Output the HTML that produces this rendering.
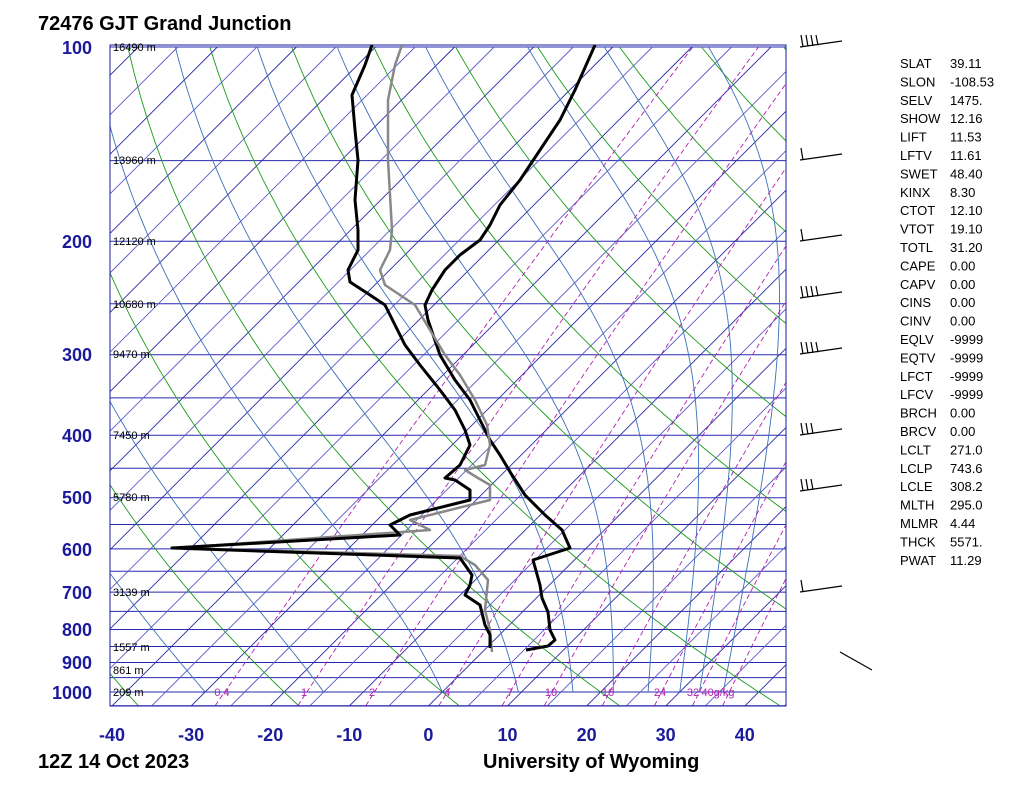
<!DOCTYPE html>
<html><head><meta charset="utf-8"><style>
body{margin:0;background:#fff;width:1024px;height:794px;overflow:hidden;font-family:"Liberation Sans",sans-serif}
svg{position:absolute;left:0;top:0}
</style></head><body>
<svg id="s" width="1024" height="794" xmlns="http://www.w3.org/2000/svg">
<defs><clipPath id="c"><rect x="110" y="45" width="676" height="661"/></clipPath></defs>
<rect x="0" y="0" width="1024" height="794" fill="#fff"/>
<g id="bg" clip-path="url(#c)"></g>
<rect x="110" y="45" width="676" height="661" fill="none" stroke="#1a1aa0" stroke-width="1"/>
<g id="snd" clip-path="url(#c)" fill="none" stroke-linejoin="round">
<polyline stroke="#000" stroke-width="3" points="526,650 548,646 555,640 550,630 548,612 542,598 540,585 533,560 570,548 562,530 545,515 525,495 512,475 500,455 490,440 480,420 470,400 455,380 440,355 428,320 425,305 432,290 445,270 460,255 480,240 490,225 500,205 520,180 540,150 560,120 575,90 595,45"/>
<polyline stroke="#888" stroke-width="2.5" points="492,652 490,630 485,610 488,580 475,565 460,556 175,548 430,530 410,520 490,500 490,485 478,478 465,470 485,465 490,445 487,425 475,400 460,375 445,355 430,330 415,305 400,295 385,285 380,270 390,250 392,230 388,160 388,100 395,65 402,45"/>
<polyline stroke="#000" stroke-width="3" points="490,648 490,635 485,625 480,605 465,595 470,585 472,575 465,565 460,558 172,548 400,535 390,525 410,515 470,500 470,490 455,480 445,478 460,465 470,445 465,430 455,410 440,390 420,365 405,345 395,325 385,305 370,295 350,282 348,270 358,250 358,230 355,200 358,160 355,130 352,95 365,65 372,45"/>
</g>
<g id="txt" font-family="Liberation Sans, sans-serif"></g>
</svg>
<script>
const NS="http://www.w3.org/2000/svg";
const bg=document.getElementById('bg'),tx=document.getElementById('txt');
function Y(p){return 692+645*Math.log10(p/1000);}
function X(T,p){return 112+(T+40)*7.91+(706-Y(p));}
function el(par,n,a,t){const e=document.createElementNS(NS,n);for(const k in a)e.setAttribute(k,a[k]);if(t!==undefined)e.textContent=t;par.appendChild(e);return e;}
function poly(pts,st,w,da){el(bg,'polyline',{points:pts.map(q=>q[0].toFixed(1)+','+q[1].toFixed(1)).join(' '),fill:'none',stroke:st,'stroke-width':w,'stroke-dasharray':da||''});}
for(let p=100;p<=1050;p+=50){poly([[110,Y(p)],[786,Y(p)]],'#2828b0',1);}
for(let T=-160;T<=50;T+=5){poly([[X(T,1050),Y(1050)],[X(T,100),Y(100)]],T%10==0?'#2a2aa8':'#5a5ac8',0.9);}
for(let th=-40;th<=240;th+=20){let pts=[];for(let p=1050;p>=100;p-=10){pts.push([X((th+273.15)*Math.pow(p/1000,0.2857)-273.15,p),Y(p)]);}poly(pts,'#1a9a1a',0.9);}
function es(T){return 6.112*Math.exp(17.67*T/(T+243.5));}
for(const T0 of [-30,-15,0,9.6,16.5,21.6,26,30,32.5,35.5]){let T=T0+273.15,pts=[];for(let p=1000;p>=100;p-=5){pts.push([X(T-273.15,p),Y(p)]);const rs=0.622*es(T-273.15)/(p-es(T-273.15));const d=(287*T+2.5e6*rs)/(1004+2.5e6*2.5e6*rs*0.622/(287*T*T))/p;T-=d*5;}
 poly(pts,'#3a70b8',0.9);}
for(const w of [0.4,1,2,4,7,10,16,24,32,40]){let pts=[];for(let p=1050;p>=100;p-=25){const e=w*p/(622+w),l=Math.log(e/6.112);pts.push([X(243.5*l/(17.67-l),p),Y(p)]);}poly(pts,'#b020b0',0.9,'5,3');}
[['0.4',222],['1',304],['2',372],['4',447],['7',510],['10',551],['16',608],['24',660],['32',693],['40g/kg',718]].forEach(a=>el(tx,'text',{x:a[1],y:696,'font-size':11,fill:'#b020b0','text-anchor':'middle'},a[0]));
[['16490 m',47],['13960 m',160],['12120 m',241],['10680 m',304],['9470 m',354],['7450 m',435],['5780 m',497],['3139 m',592],['1557 m',647],['861 m',670],['209 m',692]].forEach(a=>el(tx,'text',{x:113,y:a[1]+4,'font-size':11,fill:'#000'},a[0]));
[[100,47],[200,241],[300,354],[400,435],[500,497],[600,549],[700,592],[800,629],[900,662],[1000,692]].forEach(a=>el(tx,'text',{x:92,y:a[1]+7,'font-size':18,'font-weight':'bold',fill:'#1a1a9a','text-anchor':'end'},a[0]));
for(let T=-40;T<=40;T+=10)el(tx,'text',{x:112+(T+40)*7.91,y:741,'font-size':18,'font-weight':'bold',fill:'#1a1a9a','text-anchor':'middle'},T);
el(tx,'text',{x:38,y:30,'font-size':20,'font-weight':'bold'},'72476 GJT Grand Junction');
el(tx,'text',{x:38,y:768,'font-size':20,'font-weight':'bold'},'12Z 14 Oct 2023');
el(tx,'text',{x:483,y:768,'font-size':20,'font-weight':'bold'},'University of Wyoming');
const ind=[['SLAT','39.11'],['SLON','-108.53'],['SELV','1475.'],['SHOW','12.16'],['LIFT','11.53'],['LFTV','11.61'],['SWET','48.40'],['KINX','8.30'],['CTOT','12.10'],['VTOT','19.10'],['TOTL','31.20'],['CAPE','0.00'],['CAPV','0.00'],['CINS','0.00'],['CINV','0.00'],['EQLV','-9999'],['EQTV','-9999'],['LFCT','-9999'],['LFCV','-9999'],['BRCH','0.00'],['BRCV','0.00'],['LCLT','271.0'],['LCLP','743.6'],['LCLE','308.2'],['MLTH','295.0'],['MLMR','4.44'],['THCK','5571.'],['PWAT','11.29']];
ind.forEach((a,i)=>{const y=68+i*18.4;el(tx,'text',{x:900,y:y,'font-size':13},a[0]);el(tx,'text',{x:950,y:y,'font-size':13},a[1]);});
const wb=document.getElementById('s');
[[47,4],[160,1],[241,1],[298,4],[354,4],[435,3],[491,3],[592,1]].forEach(a=>{const y=a[0];el(wb,'line',{x1:800,y1:y,x2:842,y2:y-6,stroke:'#000','stroke-width':1.2});for(let k=0;k<a[1];k++){const x=803+k*5;el(wb,'line',{x1:x,y1:y-0.6*k,x2:x-2,y2:y-12,stroke:'#000','stroke-width':1.2});}});
el(wb,'line',{x1:840,y1:652,x2:872,y2:670,stroke:'#000','stroke-width':1.2});
</script>
</body></html>
